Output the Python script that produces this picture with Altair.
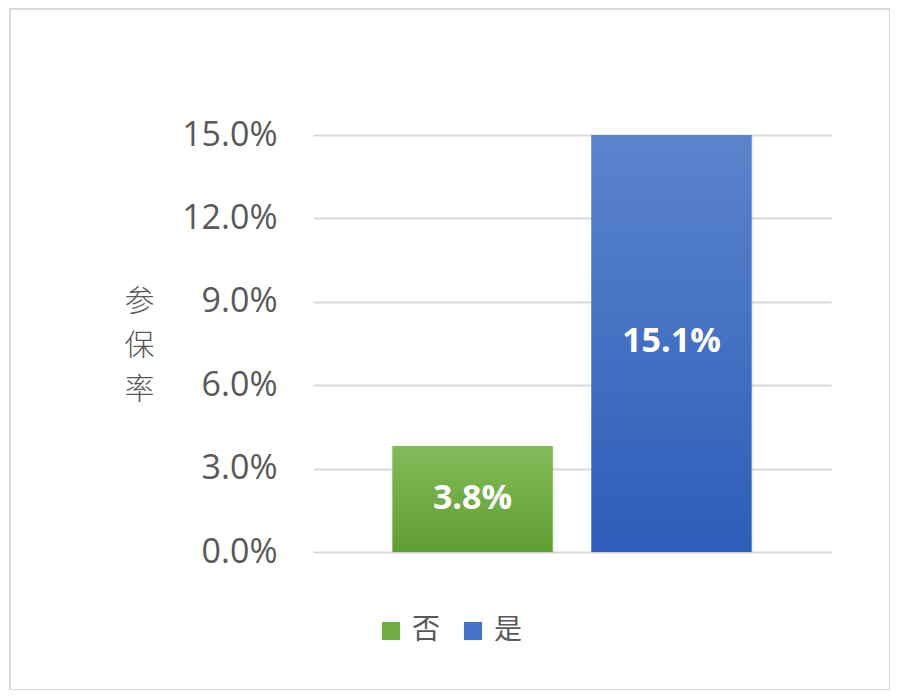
import altair as alt
import pandas as pd

categories = ["否", "是"]
values = [0.038, 0.151]
labels = ["3.8%", "15.1%"]
legend_colors = ["#70ad47", "#4472c4"]
grad_top = ["#82bb58", "#5b84cd"]
grad_bottom = ["#5f9e33", "#2d5db9"]
y_ticks = [0.0, 0.03, 0.06, 0.09, 0.12, 0.15]
y_title = ["参", "保", "率"]

df = pd.DataFrame({"cat": categories, "v": values, "label": labels})
df["mid"] = df["v"] / 2

x_enc = alt.X("cat:N", sort=categories, axis=None,
              scale=alt.Scale(paddingInner=0.196, paddingOuter=0.4))
y_scale = alt.Scale(domain=[0, 0.15], clamp=True)

border = alt.Chart(alt.Data(values=[{"a": 1}])).mark_rect(
    filled=False, stroke="#d9d9d9", strokeWidth=2
).encode(x=alt.value(-303), x2=alt.value(577), y=alt.value(-126), y2=alt.value(555))

base = alt.Chart(df)

shadow = base.mark_bar(color="#000000", opacity=0.06, stroke="#000000",
                       strokeWidth=6, strokeOpacity=0.06, xOffset=2, yOffset=1).encode(
    x=x_enc, y=alt.Y("v:Q", scale=y_scale))

bars = base.mark_bar().encode(
    x=x_enc,
    y=alt.Y("v:Q", scale=y_scale,
            axis=alt.Axis(values=y_ticks, format=".1%", title=y_title,
                          titleAngle=0, titleX=-174, titleY=151,
                          titleAlign="center", titleBaseline="top",
                          titleFont="Noto Sans CJK SC", titleFontWeight=300,
                          titleFontSize=30, titleLineHeight=44, titleColor="#595959",
                          labelFont="Open Sans", labelFontSize=34, labelColor="#595959",
                          labelPadding=36, ticks=False, domain=False,
                          gridColor="#d9d9d9", gridWidth=2)),
    color=alt.Color("cat:N", sort=categories,
                    scale=alt.Scale(domain=categories, range=legend_colors),
                    legend=alt.Legend(orient="none", direction="horizontal",
                                      legendX=64, legendY=482, title=None,
                                      symbolType="square", symbolSize=330,
                                      symbolStrokeWidth=0, symbolOpacity=1,
                                      labelFont="Noto Sans CJK SC", labelFontSize=28,
                                      labelColor="#595959", labelOffset=7,
                                      columnPadding=18)),
)

grad_layers = []
for i, c in enumerate(categories):
    grad_layers.append(
        base.transform_filter(alt.datum.cat == c).mark_bar(
            color=alt.Gradient(gradient="linear", x1=0, y1=0, x2=0, y2=1,
                               stops=[alt.GradientStop(color=grad_top[i], offset=0),
                                      alt.GradientStop(color=grad_bottom[i], offset=1)])
        ).encode(x=x_enc, y=alt.Y("v:Q", scale=y_scale))
    )

text = base.mark_text(color="white", font="Open Sans", fontWeight="bold",
                      fontSize=34, baseline="middle").encode(
    x=x_enc, y=alt.Y("mid:Q", scale=y_scale), text="label:N")

chart = alt.layer(border, shadow, bars, *grad_layers, text).properties(
    width=518, height=417,
    autosize=alt.AutoSizeParams(type="none"),
    padding={"left": 305, "top": 127, "right": 59, "bottom": 138},
    background="white",
).configure_view(stroke=None)

chart.save("out.html", embed_options={"renderer": "svg", "actions": False})
